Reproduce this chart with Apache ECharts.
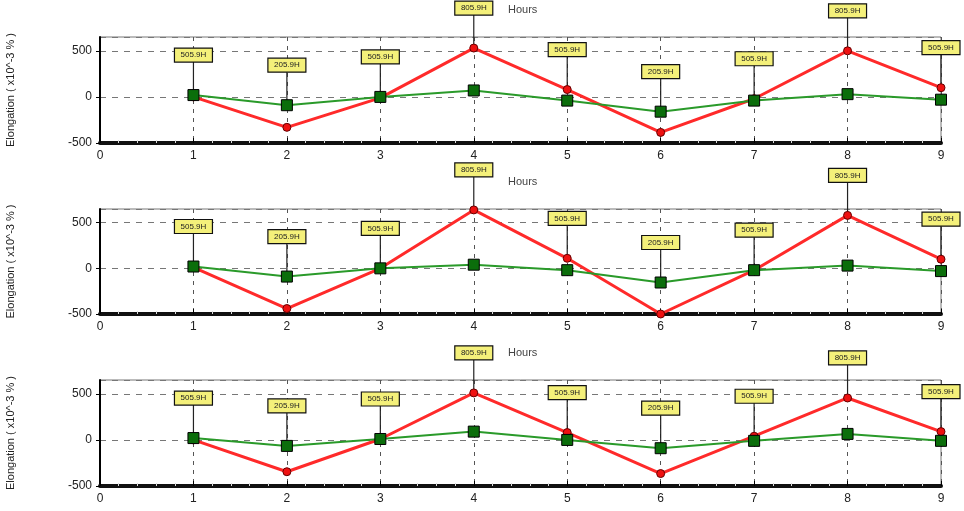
<!DOCTYPE html>
<html>
<head>
<meta charset="utf-8">
<script src="https://cdn.jsdelivr.net/npm/echarts@6/dist/echarts.min.js"></script>
<style>html,body{margin:0;padding:0;background:#fff}#c{width:964px;height:511px}</style>
</head>
<body>
<div id="c"></div>
<script>
const hours = [1, 2, 3, 4, 5, 6, 7, 8, 9];
const xTicks = [0, 1, 2, 3, 4, 5, 6, 7, 8, 9];
const yTicks = [-500, 0, 500];
const tagText = ['505.9H', '205.9H', '505.9H', '805.9H', '505.9H', '205.9H', '505.9H', '805.9H', '505.9H'];

const red1 = [0, -330, -10, 530, 80, -385, -20, 500, 100];
const green1 = [20, -90, 0, 70, -40, -160, -40, 30, -30];
const red2 = [10, -440, 0, 640, 110, -500, -20, 580, 100];
const green2 = [20, -90, 0, 40, -20, -155, -20, 30, -30];
const red3 = [0, -345, 10, 510, 80, -365, 40, 455, 90];
const green3 = [20, -65, 10, 90, 0, -90, -10, 65, -10];

const panels = [[red1, green1], [red2, green2], [red3, green3]];
const tops = [37, 209, 380];
const heights = [106, 105, 106];

const font = 'Liberation Sans, Arial, sans-serif';
const grids = [], xAxes = [], yAxes = [], series = [], titles = [];

panels.forEach(([red, green], i) => {
  grids.push({left: 100, right: 23, top: tops[i], height: heights[i], show: true,
    outerBoundsMode: 'none', containLabel: false,
    borderColor: '#777', borderWidth: 1, backgroundColor: '#fff'});
  xAxes.push({type: 'value', gridIndex: i, min: 0, max: 9, interval: 1,
    axisLine: {show: true, onZero: false, lineStyle: {color: '#111', width: 4}},
    axisTick: {show: true, length: 5, inside: true, lineStyle: {color: '#000'}},
    minorTick: {show: true, splitNumber: 5, length: 3, inside: true, lineStyle: {color: '#ddd', width: 1}},
    axisLabel: {color: '#222', fontSize: 12, fontFamily: font, margin: 7,
      formatter: v => xTicks.includes(v) ? String(v) : ''},
    splitLine: {show: true, lineStyle: {color: '#555', type: [4, 5], width: 1}}
  });
  yAxes.push({type: 'value', gridIndex: i, min: -500, max: 650, interval: 500,
    name: 'Elongation ( x10^-3 % )', nameLocation: 'middle', nameGap: 84,
    nameTextStyle: {color: '#222', fontSize: 11, fontFamily: font},
    axisLine: {show: true, onZero: false, lineStyle: {color: '#000', width: 2}},
    axisTick: {show: true, length: 4, lineStyle: {color: '#000'}},
    axisLabel: {color: '#222', fontSize: 12, fontFamily: font, margin: 8, showMaxLabel: false,
      formatter: v => yTicks.includes(v) ? String(v) : ''},
    splitLine: {show: true, lineStyle: {color: '#777', type: [6, 6], width: 1}}
  });
  titles.push({text: 'Hours', left: 503, top: tops[i] - 38,
    textStyle: {color: '#444', fontSize: 11, fontWeight: 'normal', fontFamily: font}});
  series.push({type: 'line', xAxisIndex: i, yAxisIndex: i, z: 3,
    data: hours.map((h, k) => [h, green[k]]),
    symbol: 'rect', symbolSize: 11, showAllSymbol: true,
    itemStyle: {color: '#0b6e0b', borderColor: '#000', borderWidth: 1},
    lineStyle: {color: '#2a9a2a', width: 2}});
  series.push({type: 'line', xAxisIndex: i, yAxisIndex: i, z: 2,
    data: hours.map((h, k) => [h, red[k]]),
    symbol: 'circle', symbolSize: 8,
    itemStyle: {color: '#ee1111', borderColor: '#600', borderWidth: 1},
    lineStyle: {color: '#ff2a2a', width: 3}});
  series.push({type: 'custom', xAxisIndex: i, yAxisIndex: i, z: 1, clip: false,
    data: hours.map((h, k) => [h, Math.max(red[k], green[k]), k]),
    renderItem: (params, api) => {
      const p = api.coord([api.value(0), api.value(1)]);
      const txt = tagText[api.value(2)];
      const by = p[1] - 40;
      return {type: 'group', children: [
        {type: 'line', shape: {x1: p[0], y1: p[1], x2: p[0], y2: by},
          style: {stroke: '#222', lineWidth: 1.2}},
        {type: 'rect', shape: {x: p[0] - 19, y: by - 7, width: 38, height: 14},
          style: {fill: '#f4f07a', stroke: '#111', lineWidth: 1.2}},
        {type: 'text', x: p[0], y: by,
          style: {text: txt, fill: '#222', fontSize: 8, fontFamily: font,
            align: 'center', verticalAlign: 'middle'}}
      ]};
    }
  });
});

const chart = echarts.init(document.getElementById('c'));
chart.setOption({
  animation: false,
  backgroundColor: '#fff',
  title: titles,
  grid: grids,
  xAxis: xAxes,
  yAxis: yAxes,
  series: series
});
</script>
</body>
</html>
